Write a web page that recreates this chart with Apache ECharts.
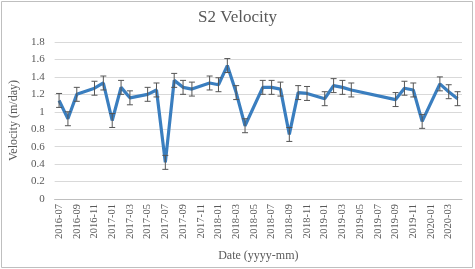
<!DOCTYPE html>
<html>
<head>
<meta charset="utf-8">
<script src="https://cdn.jsdelivr.net/npm/echarts@6/dist/echarts.min.js"></script>
<style>
html,body{margin:0;padding:0;background:#fff;}
#chart{width:475px;height:269px;}
</style>
</head>
<body>
<div id="chart"></div>
<script>
// monthly slots on the date axis, 2016-07 .. 2020-04
var months = [];
for (var y = 2016, m = 7; !(y === 2020 && m === 5); m++) {
    if (m > 12) { m = 1; y++; }
    if (y === 2020 && m === 5) break;
    months.push(y + '-' + (m < 10 ? '0' + m : m));
}

var obsDates = ['2016-07','2016-08','2016-09','2016-11','2016-12','2017-01','2017-02','2017-03',
    '2017-05','2017-06','2017-07','2017-08','2017-09','2017-10','2017-12','2018-01','2018-02',
    '2018-03','2018-04','2018-06','2018-07','2018-08','2018-09','2018-10','2018-11','2019-01',
    '2019-02','2019-03','2019-04','2019-09','2019-10','2019-11','2019-12','2020-02','2020-03','2020-04'];
var velocity = [1.13,0.92,1.20,1.27,1.33,0.90,1.28,1.16,
    1.20,1.25,0.42,1.36,1.28,1.26,1.33,1.31,1.53,
    1.22,0.84,1.28,1.28,1.26,0.74,1.22,1.21,1.15,
    1.30,1.28,1.25,1.14,1.27,1.25,0.89,1.32,1.23,1.15];
var errors = [0.08,0.08,0.08,0.08,0.08,0.08,0.08,0.08,
    0.08,0.08,0.08,0.08,0.08,0.08,0.08,0.08,0.08,
    0.08,0.08,0.08,0.08,0.08,0.08,0.08,0.08,0.08,
    0.08,0.08,0.08,0.08,0.08,0.08,0.08,0.08,0.08,0.08];

var lineData = months.map(function (d) {
    var i = obsDates.indexOf(d);
    return i < 0 ? null : velocity[i];
});
var errData = obsDates.map(function (d, i) {
    return [d, velocity[i] - errors[i], velocity[i] + errors[i]];
});

var font = 'Liberation Serif';
var grey = '#595959';

var myChart = echarts.init(document.getElementById('chart'));
var option = {
    animation: false,
    title: {
        text: 'S2 Velocity', left: 'center', top: 4,
        textStyle: {fontFamily: font, fontSize: 17, fontWeight: 'normal', color: grey}
    },
    graphic: [{
        type: 'rect', shape: {x: 1.5, y: 1.5, width: 471, height: 266},
        style: {fill: 'none', stroke: '#bfbfbf', lineWidth: 1}, silent: true
    }],
    grid: {left: 52, right: 13, top: 42, bottom: 70},
    xAxis: {
        type: 'category', data: months, boundaryGap: true,
        name: 'Date (yyyy-mm)', nameLocation: 'middle', nameGap: 51,
        nameTextStyle: {fontFamily: font, fontSize: 12, color: grey},
        axisLine: {lineStyle: {color: '#bfbfbf'}},
        axisTick: {alignWithLabel: true, interval: 1, length: 4, lineStyle: {color: '#bfbfbf'}},
        axisLabel: {interval: 1, rotate: 90, margin: 5, fontFamily: font, fontSize: 10.5, color: grey}
    },
    yAxis: {
        type: 'value', min: 0, max: 1.8, interval: 0.2,
        name: 'Velocity (m/day)', nameLocation: 'middle', nameGap: 31,
        nameTextStyle: {fontFamily: font, fontSize: 12, color: grey},
        axisLine: {show: false}, axisTick: {show: false},
        axisLabel: {margin: 10, fontFamily: font, fontSize: 11, color: grey},
        splitLine: {lineStyle: {color: '#d9d9d9'}}
    },
    series: [{
        type: 'line', data: lineData, connectNulls: true,
        symbol: 'none', lineStyle: {color: '#3a7ebf', width: 3.2}, z: 3
    }, {
        type: 'custom', z: 4,
        data: errData,
        encode: {x: 0, y: [1, 2]},
        renderItem: function (params, api) {
            var lo = api.coord([api.value(0), api.value(1)]);
            var hi = api.coord([api.value(0), api.value(2)]);
            var w = 3;
            var st = {stroke: '#555', lineWidth: 1, fill: null};
            return {
                type: 'group',
                children: [
                    {type: 'line', shape: {x1: lo[0], y1: lo[1], x2: hi[0], y2: hi[1]}, style: st},
                    {type: 'line', shape: {x1: lo[0] - w, y1: lo[1], x2: lo[0] + w, y2: lo[1]}, style: st},
                    {type: 'line', shape: {x1: hi[0] - w, y1: hi[1], x2: hi[0] + w, y2: hi[1]}, style: st}
                ]
            };
        }
    }]
};
myChart.setOption(option);
window.addEventListener('resize', function () {
    myChart.resize();
});
</script>
</body>
</html>
